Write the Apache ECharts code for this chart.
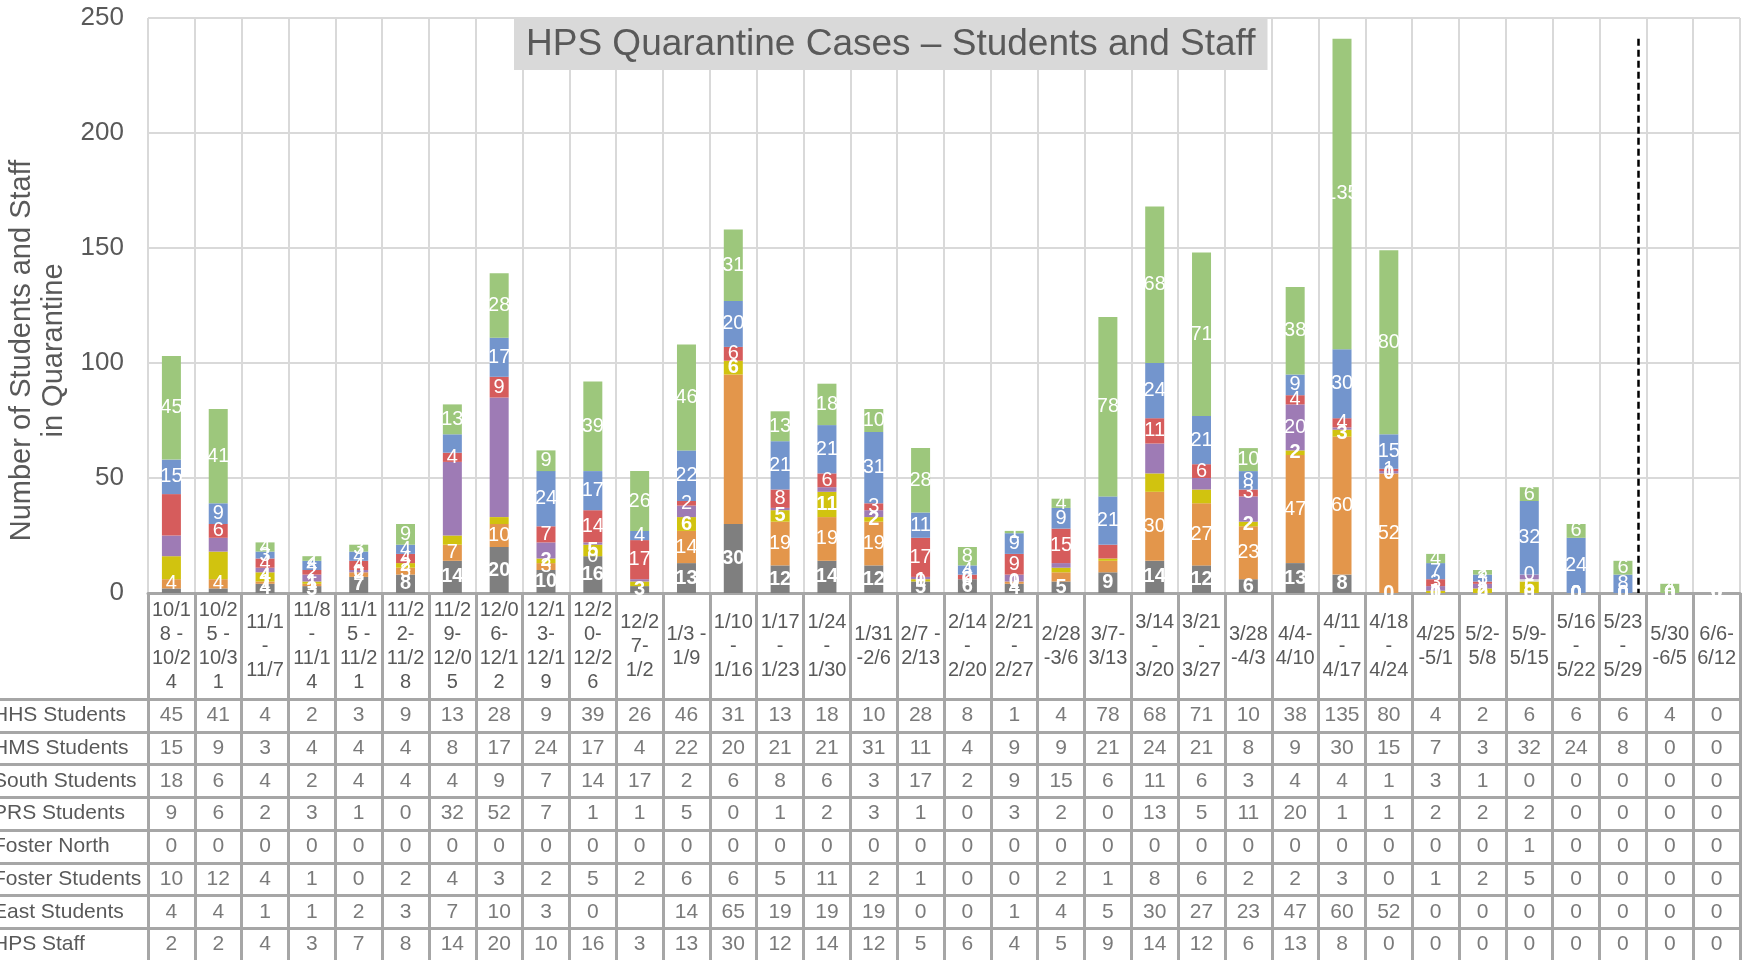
<!DOCTYPE html>
<html>
<head>
<meta charset="utf-8">
<script src="https://cdn.jsdelivr.net/npm/echarts@6/dist/echarts.min.js"></script>
<style>
html,body{margin:0;padding:0;background:#fff;}
#chart{width:1748px;height:960px;}
</style>
</head>
<body>
<div id="chart"></div>
<script>
// ---- Data ----
const weekLabels = ["10/1\n8 -\n10/2\n4","10/2\n5 -\n10/3\n1","11/1\n-\n11/7","11/8\n-\n11/1\n4","11/1\n5 -\n11/2\n1","11/2\n2-\n11/2\n8","11/2\n9-\n12/0\n5","12/0\n6-\n12/1\n2","12/1\n3-\n12/1\n9","12/2\n0-\n12/2\n6","12/2\n7-\n1/2","1/3 -\n1/9","1/10\n-\n1/16","1/17\n-\n1/23","1/24\n-\n1/30","1/31\n-2/6","2/7 -\n2/13","2/14\n-\n2/20","2/21\n-\n2/27","2/28\n-3/6","3/7-\n3/13","3/14\n-\n3/20","3/21\n-\n3/27","3/28\n-4/3","4/4-\n4/10","4/11\n-\n4/17","4/18\n-\n4/24","4/25\n-5/1","5/2-\n5/8","5/9-\n5/15","5/16\n-\n5/22","5/23\n-\n5/29","5/30\n-6/5","6/6-\n6/12"];
const hhsStudents    = [45,41,4,2,3,9,13,28,9,39,26,46,31,13,18,10,28,8,1,4,78,68,71,10,38,135,80,4,2,6,6,6,4,0];
const hmsStudents    = [15,9,3,4,4,4,8,17,24,17,4,22,20,21,21,31,11,4,9,9,21,24,21,8,9,30,15,7,3,32,24,8,0,0];
const southStudents  = [18,6,4,2,4,4,4,9,7,14,17,2,6,8,6,3,17,2,9,15,6,11,6,3,4,4,1,3,1,0,0,0,0,0];
const prsStudents    = [9,6,2,3,1,0,32,52,7,1,1,5,0,1,2,3,1,0,3,2,0,13,5,11,20,1,1,2,2,2,0,0,0,0];
const fosterNorth    = [0,0,0,0,0,0,0,0,0,0,0,0,0,0,0,0,0,0,0,0,0,0,0,0,0,0,0,0,0,1,0,0,0,0];
const fosterStudents = [10,12,4,1,0,2,4,3,2,5,2,6,6,5,11,2,1,0,0,2,1,8,6,2,2,3,0,1,2,5,0,0,0,0];
const eastStudents   = [4,4,1,1,2,3,7,10,3,0,null,14,65,19,19,19,0,0,1,4,5,30,27,23,47,60,52,0,0,0,0,0,0,0];
const hpsStaff       = [2,2,4,3,7,8,14,20,10,16,3,13,30,12,14,12,5,6,4,5,9,14,12,6,13,8,0,0,0,0,0,0,0,0];
const yTicks = {min:0, max:250, interval:50};
const titleText = "HPS Quarantine Cases \u2013 Students and Staff";
const yAxisTitle = "Number of Students and Staff\nin Quarantine";
const dividerAt = 31.83; // position of dashed divider in category units
const dividerTop = 241;

// ---- Series definitions (stack order bottom -> top) ----
const FONT = "'Liberation Sans', Arial, sans-serif";
const TXT = '#595959';
const BORDER = '#a6a6a6';
const stackSeries = [
  {name:'HPS Staff',       data:hpsStaff,       color:'#7f7f7f', bold:true,  hide:[0,1]},
  {name:'East Students',   data:eastStudents,   color:'#e3964b', bold:false, hide:[12,19,20]},
  {name:'Foster Students', data:fosterStudents, color:'#d1c30f', bold:true,  hide:[0,1,6,7,10,19,20,21,22]},
  {name:'Foster North',    data:fosterNorth,    color:'#d9d9d9', bold:false, showOnly:[]},
  {name:'PRS Students',    data:prsStudents,    color:'#9e7bb5', bold:false, showOnly:[24]},
  {name:'South Students',  data:southStudents,  color:'#d65c5c', bold:false, hide:[0,20]},
  {name:'HMS Students',    data:hmsStudents,    color:'#7395cd', bold:false, hide:[6]},
  {name:'HHS Students',    data:hhsStudents,    color:'#9dc77c', bold:false, hide:[]}
];
// table rows top -> bottom
const tableRows = [
  ['HHS Students', hhsStudents],
  ['HMS Students', hmsStudents],
  ['South Students', southStudents],
  ['PRS Students', prsStudents],
  ['Foster North', fosterNorth],
  ['Foster Students', fosterStudents],
  ['East Students', eastStudents],
  ['HPS Staff', hpsStaff]
];

const barSeries = stackSeries.map(s => ({
  name: s.name, type:'bar', stack:'total', xAxisIndex:0, yAxisIndex:0,
  barWidth: 19,
  data: s.data,
  itemStyle:{color:s.color},
  label:{
    show:true, position:'inside', color:'#fff', fontSize:20, fontFamily:FONT,
    fontWeight: s.bold ? 'bold' : 'normal',
    formatter: p => {
      if (p.value == null) return '';
      if (s.showOnly) return s.showOnly.includes(p.dataIndex) ? String(p.value) : '';
      return s.hide.includes(p.dataIndex) ? '' : String(p.value);
    }
  }
}));

const tableData = [];
tableRows.forEach((r, ri) => r[1].forEach((v, ci) => tableData.push([ci, ri, v])));

const option = {
  animation:false,
  backgroundColor:'#fff',
  textStyle:{fontFamily:FONT},
  title:{
    text:titleText, left:514, top:19,
    backgroundColor:'#d9d9d9', padding:[5,12],
    textStyle:{fontFamily:FONT, fontSize:37, fontWeight:'normal', color:TXT, lineHeight:41}
  },
  grid:[
    {left:148, right:8, top:18, height:575, outerBoundsMode:'none', containLabel:false},
    {left:148, right:8, top:699, height:262, outerBoundsMode:'none', containLabel:false}
  ],
  xAxis:[
    {type:'category', gridIndex:0, data:weekLabels,
     axisLine:{show:true, lineStyle:{color:BORDER, width:3}},
     axisTick:{show:true, length:106, interval:0, lineStyle:{color:BORDER, width:3}},
     axisLabel:{interval:0, color:TXT, fontSize:20, lineHeight:24, margin:53, verticalAlign:'middle', fontFamily:FONT},
     splitLine:{show:true, interval:0, lineStyle:{color:'#d9d9d9', width:2}}
    },
    {type:'category', gridIndex:1, data:weekLabels, position:'top',
     axisLine:{show:true, lineStyle:{color:BORDER, width:3}},
     axisTick:{show:false}, axisLabel:{show:false},
     splitLine:{show:true, interval:0, lineStyle:{color:BORDER, width:3}}
    },
    {type:'value', gridIndex:0, min:0, max:weekLabels.length, show:false}
  ],
  yAxis:[
    {type:'value', gridIndex:0, min:yTicks.min, max:yTicks.max, interval:yTicks.interval,
     axisLine:{show:false}, axisTick:{show:false},
     axisLabel:{color:TXT, fontSize:26, margin:24, fontFamily:FONT},
     splitLine:{show:true, lineStyle:{color:'#d9d9d9', width:2}},
     name:yAxisTitle, nameLocation:'middle', nameGap:74,
     nameTextStyle:{color:TXT, fontSize:29, lineHeight:32, fontFamily:FONT, padding:[0,90,0,0]}
    },
    {type:'category', gridIndex:1, data:tableRows.map(r=>r[0]), inverse:true,
     axisLine:{show:true, lineStyle:{color:BORDER, width:3}},
     axisTick:{show:true, length:150, interval:0, lineStyle:{color:BORDER, width:3}},
     axisLabel:{align:'left', margin:155, color:TXT, fontSize:21, fontFamily:FONT},
     splitLine:{show:true, interval:0, lineStyle:{color:BORDER, width:3}}
    }
  ],
  series:[
    ...barSeries,
    {type:'scatter', xAxisIndex:1, yAxisIndex:1, data:tableData, symbolSize:1,
     itemStyle:{color:'rgba(0,0,0,0)'}, silent:true,
     label:{show:true, position:'inside', color:TXT, fontSize:21, fontFamily:FONT,
            formatter:p => p.value[2] == null ? '' : String(p.value[2])}
    },
    {type:'line', xAxisIndex:2, yAxisIndex:0, data:[], silent:true,
     markLine:{symbol:'none', silent:true, label:{show:false},
       lineStyle:{color:'#000', type:[7,4], width:2.5},
       data:[[{coord:[dividerAt, dividerTop]}, {coord:[dividerAt, 0]}]]}
    }
  ]
};
const chart = echarts.init(document.getElementById('chart'), null, {renderer:'canvas'});
chart.setOption(option);
</script>
</body>
</html>
